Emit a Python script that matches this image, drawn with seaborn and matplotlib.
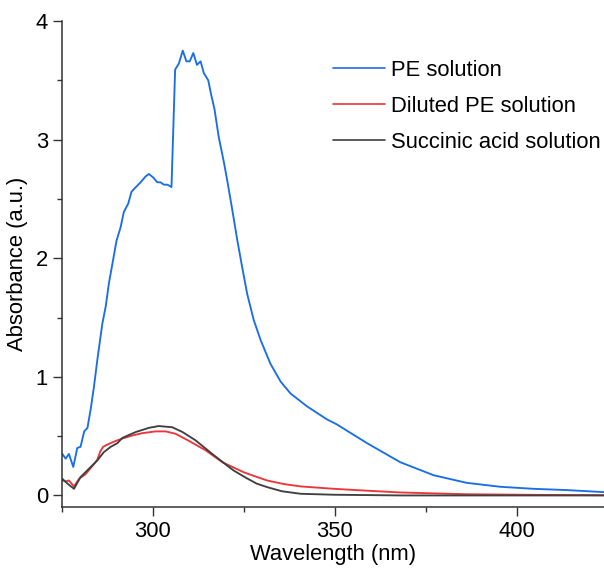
import numpy as np
import pandas as pd
import matplotlib
matplotlib.use("Agg")
import matplotlib.pyplot as plt
from matplotlib.ticker import MultipleLocator
import seaborn as sns

# UV-Vis absorbance spectra
pe_wl = [275.1, 276.0, 276.9, 278.1, 279.2, 280.1, 281.1, 282.0, 282.9, 283.8,
         284.7, 285.6, 286.1, 287.0, 287.9, 288.9, 290.0, 291.1, 292.0, 293.2,
         294.1, 295.0, 296.6, 298.0, 298.9, 300.1, 301.2, 302.1, 303.0, 304.0,
         305.1, 306.1, 307.1, 308.2, 309.2, 310.1, 311.1, 312.1, 313.1, 314.0,
         315.2, 316.0, 316.9, 318.1, 319.5, 320.4, 321.8, 323.2, 324.5, 325.9,
         327.7, 329.6, 332.3, 335.1, 337.8, 342.4, 347.9, 350.5, 358.9, 368.0,
         377.2, 386.3, 395.5, 404.5, 413.8, 424.0]
pe_abs = [0.35, 0.31, 0.35, 0.24, 0.40, 0.41, 0.54, 0.57, 0.73, 0.92,
          1.14, 1.34, 1.45, 1.59, 1.79, 1.96, 2.15, 2.26, 2.39, 2.46,
          2.56, 2.59, 2.64, 2.69, 2.71, 2.68, 2.64, 2.64, 2.62, 2.62,
          2.60, 3.59, 3.64, 3.75, 3.66, 3.66, 3.73, 3.63, 3.66, 3.56,
          3.50, 3.38, 3.26, 3.02, 2.81, 2.66, 2.41, 2.15, 1.93, 1.70,
          1.48, 1.31, 1.11, 0.96, 0.86, 0.75, 0.64, 0.60, 0.44, 0.28,
          0.17, 0.106, 0.073, 0.056, 0.045, 0.028]

dil_wl = [275.1, 276.0, 276.9, 278.3, 279.7, 281.5, 283.4, 284.7, 285.5, 286.3,
          287.9, 289.8, 291.6, 294.3, 297.1, 300.7, 303.5, 306.2, 309.9, 314.5,
          319.1, 322.2, 325.0, 328.2, 331.4, 336.0, 340.6, 349.7, 358.9, 368.0,
          386.3, 404.5, 424.0]
dil_abs = [0.127, 0.118, 0.126, 0.076, 0.14, 0.18, 0.25, 0.30, 0.37, 0.41,
           0.435, 0.46, 0.48, 0.505, 0.525, 0.54, 0.54, 0.52, 0.46, 0.38,
           0.28, 0.235, 0.195, 0.16, 0.126, 0.096, 0.076, 0.056, 0.040, 0.025,
           0.010, 0.005, 0.002]

suc_wl = [275.1, 276.5, 278.3, 280.1, 282.4, 284.7, 286.5, 288.4, 290.2, 291.6,
          295.3, 298.9, 301.6, 305.3, 308.1, 311.7, 316.3, 320.9, 322.2, 325.5,
          328.5, 331.4, 335.5, 340.6, 349.7, 368.0, 424.0]
suc_abs = [0.14, 0.10, 0.056, 0.155, 0.225, 0.295, 0.365, 0.41, 0.44, 0.485,
           0.535, 0.57, 0.585, 0.575, 0.535, 0.465, 0.35, 0.24, 0.21, 0.15,
           0.10, 0.07, 0.035, 0.014, 0.006, 0.0, 0.0]

labels = ["PE solution", "Diluted PE solution", "Succinic acid solution"]
colors = ["#1a6ee6", "#ea373c", "#404040"]

df = pd.concat([
    pd.DataFrame({"Wavelength": pe_wl, "Absorbance": pe_abs, "Sample": labels[0]}),
    pd.DataFrame({"Wavelength": dil_wl, "Absorbance": dil_abs, "Sample": labels[1]}),
    pd.DataFrame({"Wavelength": suc_wl, "Absorbance": suc_abs, "Sample": labels[2]}),
], ignore_index=True)

sns.set_theme(style="ticks")
plt.rcParams["font.family"] = ["Liberation Sans", "DejaVu Sans"]
plt.rcParams["text.color"] = "black"
plt.rcParams["axes.labelcolor"] = "black"
plt.rcParams["xtick.color"] = "#333333"
plt.rcParams["ytick.color"] = "#333333"
plt.rcParams["xtick.labelcolor"] = "black"
plt.rcParams["ytick.labelcolor"] = "black"

fig = plt.figure(figsize=(6.04, 5.70), dpi=100)
ax = fig.add_axes([62 / 604, (570 - 507.3) / 570, (604 - 62) / 604, (507.3 - 21) / 570])

sns.lineplot(data=df, x="Wavelength", y="Absorbance", hue="Sample",
             hue_order=labels, palette=colors, sort=False, estimator=None,
             linewidth=1.35, ax=ax)

ax.set_xlim(275, 424)
ax.set_ylim(-0.1, 4)
ax.xaxis.set_major_locator(MultipleLocator(50))
ax.xaxis.set_minor_locator(MultipleLocator(25))
ax.yaxis.set_major_locator(MultipleLocator(1))
ax.yaxis.set_minor_locator(MultipleLocator(0.5))

fs = 15.8
ax.set_xlabel("Wavelength (nm)", fontsize=fs, labelpad=1)
ax.set_ylabel("Absorbance (a.u.)", fontsize=fs, labelpad=6)
ax.tick_params(axis="both", which="major", direction="out", length=6.5, width=1.0,
               labelsize=fs, pad=3.5)
ax.tick_params(axis="both", which="minor", direction="out", length=3.3, width=1.0)
for side in ("top", "right"):
    ax.spines[side].set_visible(False)
for side in ("left", "bottom"):
    ax.spines[side].set_linewidth(1.1)
    ax.spines[side].set_color("#333333")

handles, lbls = ax.get_legend_handles_labels()
ax.legend(handles, lbls, loc="upper left", bbox_to_anchor=(333 / 604, 1 - 60 / 570),
          bbox_transform=fig.transFigure, frameon=False, fontsize=fs,
          handlelength=2.35, handletextpad=0.3, labelspacing=0.68,
          borderpad=0, borderaxespad=0)
for line in ax.get_legend().get_lines():
    line.set_linewidth(1.2)

fig.savefig("out.png", dpi=100)
